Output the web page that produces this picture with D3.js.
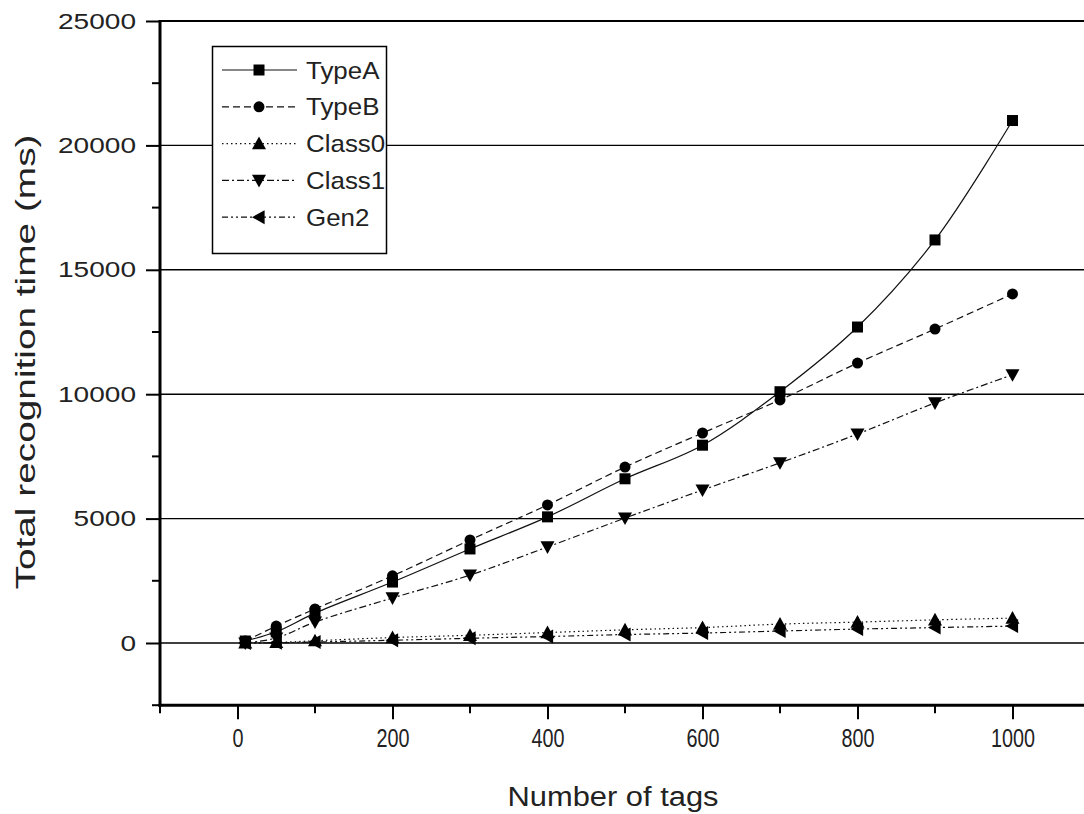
<!DOCTYPE html>
<html><head><meta charset="utf-8">
<script src="https://cdn.jsdelivr.net/npm/d3@7"></script>
<style>
html,body{margin:0;padding:0;background:#fff;overflow:hidden}
svg{display:block}
</style></head>
<body>
<svg id="chart" width="1084" height="814"></svg>
<script>
const xValues = [10, 50, 100, 200, 300, 400, 500, 600, 700, 800, 900, 1000];
const seriesNames = ["TypeA", "TypeB", "Class0", "Class1", "Gen2"];
const typeA  = [80, 450, 1200, 2450, 3780, 5070, 6600, 7950, 10100, 12700, 16200, 21000];
const typeB  = [80, 680, 1370, 2700, 4140, 5550, 7070, 8440, 9770, 11250, 12620, 14030];
const class0 = [0, 20, 90, 220, 310, 420, 530, 620, 760, 840, 930, 1000];
const class1 = [0, 200, 840, 1810, 2730, 3860, 5020, 6150, 7240, 8400, 9650, 10780];
const gen2   = [0, 10, 40, 110, 190, 260, 340, 400, 480, 560, 620, 680];
const xTicks = [0, 200, 400, 600, 800, 1000];
const yTicks = [0, 5000, 10000, 15000, 20000, 25000];
const xTitle = "Number of tags";
const yTitle = "Total recognition time (ms)";

const seriesValues = [typeA, typeB, class0, class1, gen2];
const dashes = [null, "7,4", "1.5,3", "7,3,2,3", "6,3,2,3,2,3"];
const markers = ["square", "circle", "up", "down", "left"];
const FONT = "'Liberation Sans', Arial, sans-serif";

const svg = d3.select("#chart");
const x = d3.scaleLinear().domain([-100, 1100]).range([160, 1090]);
const y = d3.scaleLinear().domain([-2500, 25000]).range([705.2, 21]);

// grid lines
svg.append("g").selectAll("line").data(yTicks.slice(0, 5)).join("line")
  .attr("x1", x(-100)).attr("x2", 1084)
  .attr("y1", d => y(d)).attr("y2", d => y(d))
  .attr("stroke", "#000").attr("stroke-width", 1.4);

// top border
svg.append("line").attr("x1", x(-100)).attr("x2", 1084)
  .attr("y1", y(25000)).attr("y2", y(25000))
  .attr("stroke", "#000").attr("stroke-width", 2.2);

// x axis
const xMinor = d3.range(-100, 1101, 100).filter(v => v % 200 !== 0);
const gx = svg.append("g").attr("transform", `translate(0,${y(-2500)})`);
gx.call(d3.axisBottom(x).tickValues(xTicks).tickSize(14).tickPadding(9).tickFormat(d3.format("d")));
gx.select(".domain").remove();
gx.selectAll(".tick line").attr("stroke-width", 2);
gx.selectAll(".tick text").attr("font-family", FONT)
  .attr("font-size", 26).attr("fill", "#222")
  .attr("textLength", d => String(d).length * 11)
  .attr("lengthAdjust", "spacingAndGlyphs");
gx.append("g").selectAll("line").data(xMinor).join("line")
  .attr("x1", d => x(d)).attr("x2", d => x(d)).attr("y1", 0).attr("y2", 8)
  .attr("stroke", "#000").attr("stroke-width", 2);
gx.append("line").attr("x1", x(-100) - 1.5).attr("x2", 1084).attr("y1", 0).attr("y2", 0)
  .attr("stroke", "#000").attr("stroke-width", 3);

// y axis
const yMinor = d3.range(-2500, 25001, 2500).filter(v => v % 5000 !== 0);
const gy = svg.append("g").attr("transform", `translate(${x(-100)},0)`);
gy.call(d3.axisLeft(y).tickValues(yTicks).tickSize(14).tickPadding(10).tickFormat(d3.format("d")));
gy.select(".domain").remove();
gy.selectAll(".tick line").attr("stroke-width", 2);
gy.selectAll(".tick text").attr("font-family", FONT)
  .attr("font-size", 22).attr("fill", "#222")
  .attr("textLength", d => String(d).length * 15.6)
  .attr("lengthAdjust", "spacingAndGlyphs");
gy.append("g").selectAll("line").data(yMinor).join("line")
  .attr("y1", d => y(d)).attr("y2", d => y(d)).attr("x1", 0).attr("x2", -8)
  .attr("stroke", "#000").attr("stroke-width", 2);
gy.append("line").attr("x1", 0).attr("x2", 0).attr("y1", y(25000) - 1).attr("y2", y(-2500) + 1.5)
  .attr("stroke", "#000").attr("stroke-width", 3);

// titles
svg.append("text").attr("x", 613).attr("y", 806).attr("text-anchor", "middle")
  .attr("font-family", FONT).attr("font-size", 27).attr("fill", "#222")
  .attr("textLength", 211).attr("lengthAdjust", "spacingAndGlyphs")
  .text(xTitle);
svg.append("text").attr("transform", "translate(35,362) rotate(-90)").attr("text-anchor", "middle")
  .attr("font-family", FONT).attr("font-size", 27).attr("fill", "#222")
  .attr("textLength", 455).attr("lengthAdjust", "spacingAndGlyphs")
  .text(yTitle);

function drawMarker(g, type, cx, cy) {
  if (type === "square") {
    g.append("rect").attr("x", cx - 5.5).attr("y", cy - 5.5).attr("width", 11).attr("height", 11).attr("fill", "#000");
  } else if (type === "circle") {
    g.append("circle").attr("cx", cx).attr("cy", cy).attr("r", 5.5).attr("fill", "#000");
  } else {
    const s = 7;
    let pts;
    if (type === "up") pts = [[cx, cy - s], [cx - s, cy + s * 0.8], [cx + s, cy + s * 0.8]];
    else if (type === "down") pts = [[cx, cy + s], [cx - s, cy - s * 0.8], [cx + s, cy - s * 0.8]];
    else pts = [[cx - s, cy], [cx + s * 0.8, cy - s], [cx + s * 0.8, cy + s]];
    g.append("polygon").attr("points", pts.map(p => p.join(",")).join(" ")).attr("fill", "#000");
  }
}

const line = d3.line().x(d => x(d[0])).y(d => y(d[1])).curve(d3.curveCatmullRom.alpha(0.5));
const plot = svg.append("g");
seriesValues.forEach((vals, i) => {
  const pts = xValues.map((xv, j) => [xv, vals[j]]);
  const g = plot.append("g");
  g.append("path").datum(pts).attr("d", line).attr("fill", "none")
    .attr("stroke", "#111").attr("stroke-width", 1.2)
    .attr("stroke-dasharray", dashes[i]);
  pts.forEach(p => drawMarker(g, markers[i], x(p[0]), y(p[1])));
});

// legend
const lg = svg.append("g");
lg.append("rect").attr("x", 212.5).attr("y", 46.5).attr("width", 174).attr("height", 207)
  .attr("fill", "#fff").attr("stroke", "#000").attr("stroke-width", 1.5);
seriesNames.forEach((name, i) => {
  const ly = 70 + i * 36.8;
  lg.append("line").attr("x1", 222).attr("x2", 297).attr("y1", ly).attr("y2", ly)
    .attr("stroke", "#111").attr("stroke-width", 1.2).attr("stroke-dasharray", dashes[i]);
  drawMarker(lg, markers[i], 259, ly);
  lg.append("text").attr("transform", `translate(306,${ly + 8.5}) scale(1.08,1)`)
    .attr("font-family", FONT)
    .attr("font-size", 24).attr("fill", "#222").text(name);
});
</script>
</body></html>
